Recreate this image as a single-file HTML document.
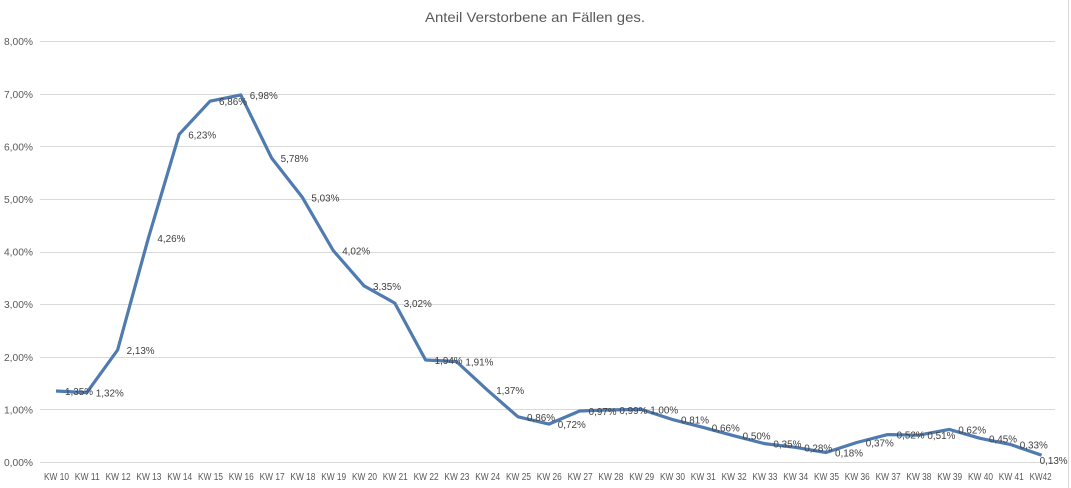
<!DOCTYPE html>
<html><head><meta charset="utf-8"><style>
html,body{margin:0;padding:0;background:#fff;}
svg{display:block;font-family:"Liberation Sans",Calibri,sans-serif;}
</style></head><body>
<svg id="c" width="1071" height="488" xmlns="http://www.w3.org/2000/svg">
<rect x="0" y="0" width="1071" height="488" fill="#fff"/>
<line x1="1068.5" y1="0" x2="1068.5" y2="488" stroke="#d9d9d9"/>
<text x="535" y="22" text-anchor="middle" font-size="14" fill="#595959" textLength="220" lengthAdjust="spacingAndGlyphs">Anteil Verstorbene an Fällen ges.</text>
<g id="g"></g>
</svg>
<script>
var v=[1.35,1.32,2.13,4.26,6.23,6.86,6.98,5.78,5.03,4.02,3.35,3.02,1.94,1.91,1.37,0.86,0.72,0.97,0.99,1.00,0.81,0.66,0.50,0.35,0.28,0.18,0.37,0.52,0.51,0.62,0.45,0.33,0.13];
var s='';
function Y(p){return 462-p*52.6;}
for(var k=0;k<=8;k++){var y=Y(k);s+='<line x1="40" x2="1055" y1="'+(Math.round(y)+0.5)+'" y2="'+(Math.round(y)+0.5)+'" stroke="#d9d9d9"/>';
s+='<text x="33" y="'+(y+4)+'" text-anchor="end" font-size="10" fill="#595959" textLength="29" lengthAdjust="spacingAndGlyphs">'+k+',00%</text>';}
var pts=[];
for(var i=0;i<v.length;i++){var x=56+i*30.8;pts.push(x.toFixed(1)+','+Y(v[i]).toFixed(1));
var lab=i==32?'KW42':'KW '+(10+i);
s+='<text x="'+(x-12)+'" y="480" font-size="10" fill="#595959" textLength="'+(i==32?22:25)+'" lengthAdjust="spacingAndGlyphs">'+lab+'</text>';}
s+='<polyline points="'+pts.join(' ')+'" fill="none" stroke="#4f7bb0" stroke-width="3.2" stroke-linejoin="round"/>';
for(var i=0;i<v.length;i++){var x=56+i*30.8;var dx=9,dy=4;if(i==32){dx=-2;dy=9;}
s+='<text x="'+(x+dx)+'" y="'+(Y(v[i])+dy)+'" font-size="10" fill="#404040" textLength="28" lengthAdjust="spacingAndGlyphs">'+v[i].toFixed(2).replace('.',',')+'%</text>';}
document.getElementById('g').innerHTML=s;
</script>
</body></html>
